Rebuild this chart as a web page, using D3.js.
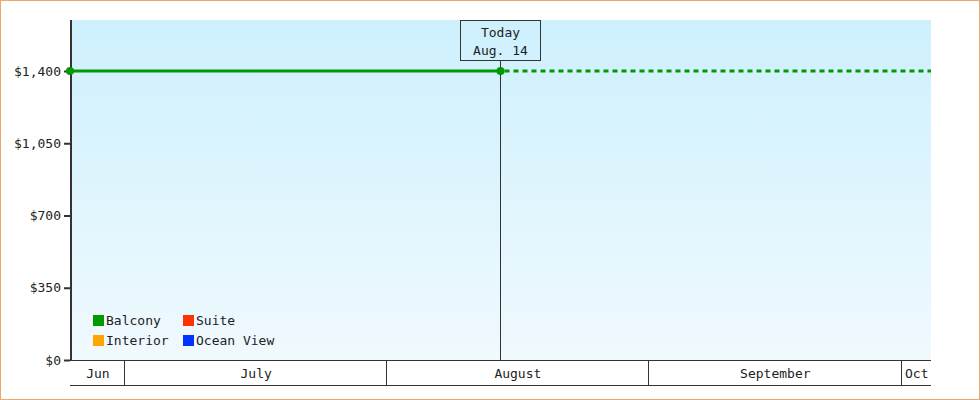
<!DOCTYPE html>
<html>
<head>
<meta charset="utf-8">
<script src="https://cdn.jsdelivr.net/npm/d3@7"></script>
<style>
  html, body { margin: 0; padding: 0; background: #fff; }
  svg { display: block; }
  text { font-family: "DejaVu Sans Mono", "Liberation Mono", monospace; font-size: 13px; fill: #222; }
</style>
</head>
<body>
<div id="chart"></div>
<script>
// price history for the balcony cabin (known up to today, projected after)
const seriesNames = ['Balcony', 'Suite', 'Interior', 'Ocean View'];
const seriesColors = ['#009900', '#ff3300', '#ffa500', '#0033ff'];
const balconyDates = ['2024-06-24T12:00', '2024-08-14T12:00'];
const balconyPrices = [1400, 1400];
const projectedDates = ['2024-08-14T12:00', '2024-10-04T12:00'];
const projectedPrices = [1400, 1400];
const todayDate = '2024-08-14T12:00';
const todayLabel = ['Today', 'Aug. 14'];
const yTicks = [0, 350, 700, 1050, 1400];
const monthStarts = ['2024-06-01', '2024-07-01', '2024-08-01', '2024-09-01', '2024-10-01', '2024-11-01'];
const monthLabels = ['Jun', 'July', 'August', 'September', 'Oct'];

const W = 980, H = 400;
const margin = { top: 20, right: 49, bottom: 40, left: 70 };
const innerW = W - margin.left - margin.right;
const innerH = H - margin.top - margin.bottom;

const parse = d3.isoParse;
const domainStart = parse('2024-06-24T12:00');
const domainEnd = parse('2024-10-04T12:00');

const x = d3.scaleTime().domain([domainStart, domainEnd]).range([0, innerW]);
const y = d3.scaleLinear().domain([0, 1647]).range([innerH, 0]);

const svg = d3.select('#chart').append('svg')
  .attr('width', W)
  .attr('height', H);

// outer frame
svg.append('rect')
  .attr('x', 0.5).attr('y', 0.5)
  .attr('width', W - 1).attr('height', H - 1)
  .attr('fill', '#fff')
  .attr('stroke', '#eaa968');

const defs = svg.append('defs');
const grad = defs.append('linearGradient')
  .attr('id', 'bg').attr('x1', 0).attr('y1', 0).attr('x2', 0).attr('y2', 1);
grad.append('stop').attr('offset', '0%').attr('stop-color', '#cdf0fd');
grad.append('stop').attr('offset', '100%').attr('stop-color', '#f0f9fe');

const g = svg.append('g')
  .attr('transform', 'translate(' + margin.left + ',' + margin.top + ')');

g.append('rect')
  .attr('width', innerW)
  .attr('height', innerH)
  .attr('fill', 'url(#bg)');

// y axis
const yAxis = g.append('g')
  .call(d3.axisLeft(y)
    .tickValues(yTicks)
    .tickSize(6)
    .tickPadding(3)
    .tickFormat(d => '$' + d3.format(',')(d)));
yAxis.select('.domain').remove();
yAxis.selectAll('.tick line').attr('stroke', '#333').attr('stroke-width', 2);
yAxis.selectAll('.tick text').style('font-size', '13px').attr('fill', '#222');
g.append('line')
  .attr('x1', 1).attr('x2', 1)
  .attr('y1', 0).attr('y2', innerH)
  .attr('stroke', '#333').attr('stroke-width', 2);

// month band axis
const band = g.append('g').attr('transform', 'translate(0,' + innerH + ')');
const bandH = 25;
band.append('line')
  .attr('x1', 0).attr('x2', innerW).attr('y1', 0.5).attr('y2', 0.5)
  .attr('stroke', '#333');
band.append('line')
  .attr('x1', 0).attr('x2', innerW).attr('y1', bandH + 0.5).attr('y2', bandH + 0.5)
  .attr('stroke', '#333');

const months = monthLabels.map((label, i) => {
  const a = Math.max(0, x(parse(monthStarts[i])));
  const b = Math.min(innerW, x(parse(monthStarts[i + 1])));
  return { label, a, b };
});
band.selectAll('.sep')
  .data(months.slice(1))
  .enter().append('line')
  .attr('x1', d => Math.floor(d.a) + 0.5).attr('x2', d => Math.floor(d.a) + 0.5)
  .attr('y1', 0).attr('y2', bandH)
  .attr('stroke', '#333');
band.selectAll('.mlabel')
  .data(months)
  .enter().append('text')
  .attr('x', d => (d.a + d.b) / 2 + 0.5)
  .attr('y', 18)
  .attr('text-anchor', 'middle')
  .text(d => d.label);

// today marker
const tx = Math.floor(x(parse(todayDate))) + 0.5;
g.append('line')
  .attr('x1', tx).attr('x2', tx)
  .attr('y1', 40).attr('y2', innerH)
  .attr('stroke', '#333');
g.append('rect')
  .attr('x', tx - 40).attr('y', 0.5)
  .attr('width', 80).attr('height', 40)
  .attr('fill', 'none')
  .attr('stroke', '#333');
g.selectAll('.todayText')
  .data(todayLabel)
  .enter().append('text')
  .attr('x', tx)
  .attr('y', (d, i) => 17 + i * 18)
  .attr('text-anchor', 'middle')
  .text(d => d);

// lines
const line = d3.line()
  .x(d => x(d.date))
  .y(d => y(d.value));

const known = balconyDates.map((d, i) => ({ date: parse(d), value: balconyPrices[i] }));
const projected = projectedDates.map((d, i) => ({ date: parse(d), value: projectedPrices[i] }));

g.append('path')
  .datum(projected)
  .attr('d', line)
  .attr('fill', 'none')
  .attr('stroke', seriesColors[0])
  .attr('stroke-width', 3)
  .attr('stroke-dasharray', '5,4')
  .attr('stroke-dashoffset', -4);

g.append('path')
  .datum(known)
  .attr('d', line)
  .attr('fill', 'none')
  .attr('stroke', seriesColors[0])
  .attr('stroke-width', 3);

g.selectAll('.dot')
  .data(known)
  .enter().append('circle')
  .attr('cx', d => x(d.date))
  .attr('cy', d => y(d.value))
  .attr('r', 4)
  .attr('fill', seriesColors[0]);

// legend
const legendOrder = [0, 2, 1, 3]; // columns: Balcony/Interior, Suite/Ocean View
const legend = g.append('g').attr('transform', 'translate(23,295)');
const item = legend.selectAll('.item')
  .data(legendOrder)
  .enter().append('g')
  .attr('transform', (d, i) => 'translate(' + (Math.floor(i / 2) * 90) + ',' + ((i % 2) * 20) + ')');
item.append('rect')
  .attr('width', 11).attr('height', 11)
  .attr('fill', d => seriesColors[d]);
item.append('text')
  .attr('x', 13).attr('y', 10)
  .text(d => seriesNames[d]);
</script>
</body>
</html>
